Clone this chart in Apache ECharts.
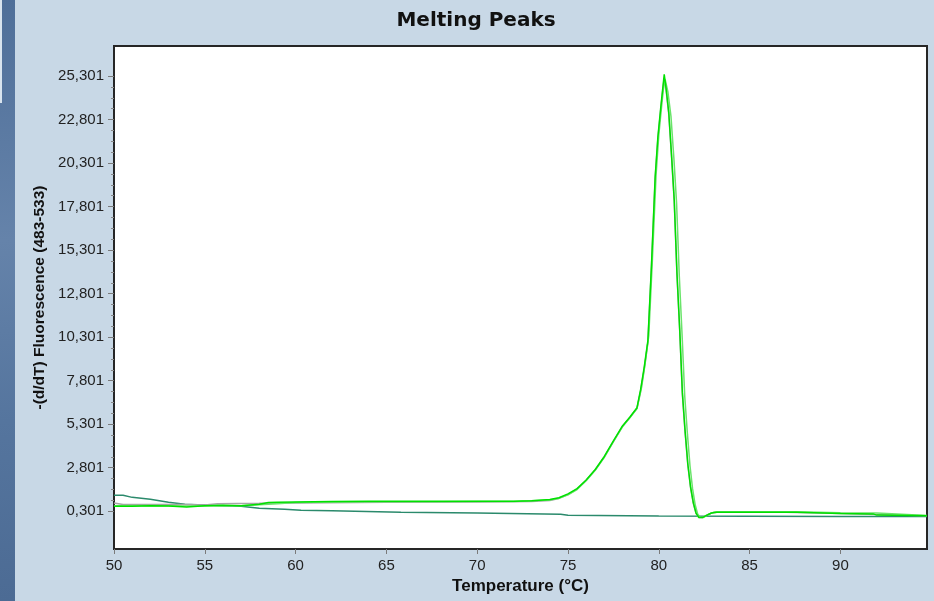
<!DOCTYPE html>
<html>
<head>
<meta charset="utf-8">
<title>Melting Peaks</title>
<script src="https://cdn.jsdelivr.net/npm/echarts@6/dist/echarts.min.js"></script>
<style>
  html, body { margin: 0; padding: 0; background: #c8d8e6; }
  #chart { width: 934px; height: 601px; }
</style>
</head>
<body>
<div id="chart"></div>
<script>
// Melting peak curves: -(d/dT) fluorescence (483-533) against temperature (°C)

// Sample 1 (bright green)
const tempS1 = [50, 51, 52, 53, 54, 55, 56, 57, 58, 58.5, 59, 60, 62, 64, 66, 68, 70, 72, 73, 74, 74.5, 75, 75.5, 76, 76.5, 77, 77.5, 78, 78.4, 78.8, 79.0, 79.2, 79.4, 79.6, 79.8, 79.95, 80.1, 80.2, 80.3, 80.4, 80.55, 80.7, 80.85, 81.0, 81.15, 81.3, 81.45, 81.6, 81.75, 81.9, 82.05, 82.2, 82.4, 82.6, 82.9, 83.2, 85, 87, 87.6, 90, 91.8, 92, 94.77];
const fluorS1 = [0.59, 0.59, 0.62, 0.60, 0.54, 0.62, 0.64, 0.62, 0.70, 0.80, 0.82, 0.84, 0.86, 0.87, 0.88, 0.87, 0.88, 0.88, 0.90, 0.98, 1.08, 1.30, 1.60, 2.10, 2.70, 3.45, 4.35, 5.20, 5.70, 6.25, 7.30, 8.60, 10.10, 14.50, 19.50, 21.80, 23.40, 24.40, 25.40, 24.60, 23.20, 20.80, 18.20, 14.00, 10.80, 7.10, 4.90, 3.00, 1.70, 0.80, 0.20, -0.05, -0.06, 0.05, 0.20, 0.24, 0.25, 0.25, 0.24, 0.18, 0.15, 0.08, 0.05];

// Sample 2 (light green)
const tempS2 = [50, 52, 54, 55, 57, 59, 60, 62, 65, 68, 70, 72, 74, 74.5, 75, 75.5, 76, 76.5, 77, 77.5, 78, 78.4, 78.8, 79.05, 79.25, 79.45, 79.65, 79.85, 80.0, 80.15, 80.25, 80.35, 80.5, 80.67, 80.83, 80.98, 81.13, 81.28, 81.43, 81.58, 81.72, 81.86, 82.0, 82.14, 82.28, 82.47, 82.7, 83.0, 83.2, 85, 87.5, 90, 92, 94.77];
const fluorS2 = [0.62, 0.63, 0.60, 0.60, 0.62, 0.74, 0.80, 0.83, 0.85, 0.85, 0.86, 0.86, 0.95, 1.05, 1.25, 1.55, 2.05, 2.65, 3.40, 4.30, 5.15, 5.65, 6.20, 7.40, 8.80, 10.40, 14.80, 19.60, 21.90, 23.50, 24.50, 25.10, 24.40, 23.00, 20.60, 18.00, 13.80, 10.50, 6.90, 4.70, 2.90, 1.60, 0.70, 0.15, -0.04, -0.05, 0.10, 0.24, 0.28, 0.28, 0.28, 0.22, 0.20, 0.06];

// Sample 3 (grey)
const tempS3 = [50, 50.5, 53.8, 55, 55.7, 58, 60, 65, 70, 73, 74, 74.5, 75, 75.5, 76, 76.5, 77, 77.5, 78, 78.4, 78.8, 79.0, 79.2, 79.4, 79.6, 79.8, 79.95, 80.1, 80.2, 80.3, 80.4, 80.55, 80.7, 80.85, 81.0, 81.15, 81.3, 81.45, 81.6, 81.75, 81.9, 82.05, 82.2, 82.4, 82.6, 82.9, 83.2, 85, 87, 90, 92, 94.77];
const fluorS3 = [0.78, 0.69, 0.69, 0.66, 0.74, 0.76, 0.78, 0.82, 0.83, 0.86, 0.92, 1.04, 1.26, 1.58, 2.08, 2.68, 3.42, 4.30, 5.18, 5.68, 6.22, 7.20, 8.50, 10.00, 14.40, 19.40, 21.70, 23.30, 24.30, 25.20, 24.50, 23.10, 20.70, 18.10, 13.90, 10.70, 7.00, 4.80, 2.95, 1.65, 0.75, 0.18, -0.05, -0.06, 0.06, 0.20, 0.24, 0.25, 0.24, 0.17, 0.12, 0.04];

// No-template control (teal)
const tempNTC = [50, 50.5, 51, 52, 53, 53.9, 55.3, 57, 58, 59.4, 60.3, 62, 65.8, 70, 74.6, 75, 80, 85, 90, 94.77];
const fluorNTC = [1.22, 1.22, 1.10, 0.99, 0.82, 0.70, 0.65, 0.59, 0.47, 0.42, 0.36, 0.33, 0.24, 0.20, 0.13, 0.07, 0.03, 0.01, 0.00, 0.00];

// Axis ticks
const xTickValues = [50, 55, 60, 65, 70, 75, 80, 85, 90];
const yTickValues = [0.301, 2.801, 5.301, 7.801, 10.301, 12.801, 15.301, 17.801, 20.301, 22.801, 25.301];

// minor y ticks: three between each pair of labelled ticks
const yMinorValues = [];
for (let i = 0; i < yTickValues.length - 1; i++) {
  const step = (yTickValues[i + 1] - yTickValues[i]) / 4;
  for (let k = 1; k < 4; k++) yMinorValues.push(+(yTickValues[i] + k * step).toFixed(4));
}

const pairs = (xs, ys) => xs.map((x, i) => [x, ys[i]]);
const fmtY = v => v.toFixed(3).replace('.', ',');

const Y_MIN = -1.866, Y_MAX = 27.025;
const X_MIN = 50, X_MAX = 94.77;

const chart = echarts.init(document.getElementById('chart'), null, { renderer: 'canvas' });

const lineSeries = (name, data, color, width, z) => ({
  name, type: 'line', data, showSymbol: false, symbol: 'none',
  xAxisIndex: 0, yAxisIndex: 0, z,
  lineStyle: { color, width },
  emphasis: { disabled: true },
  animation: false
});

chart.setOption({
  backgroundColor: '#c8d8e6',
  animation: false,
  graphic: [
    {
      type: 'rect', left: 0, top: 0, z: -10,
      shape: { width: 15, height: 601 },
      style: {
        fill: new echarts.graphic.LinearGradient(0, 0, 1, 1, [
          { offset: 0, color: '#4f6f99' },
          { offset: 0.4, color: '#6583aa' },
          { offset: 0.7, color: '#55759e' },
          { offset: 1, color: '#4c6b94' }
        ])
      }
    },
    {
      type: 'rect', left: 0, top: 0, z: -9,
      shape: { width: 2, height: 103 },
      style: { fill: '#d9e4ee' }
    },
    {
      type: 'text', x: 476, y: 21, z: 10,
      style: {
        text: 'Melting Peaks',
        font: 'bold 20px "DejaVu Sans"',
        fill: '#111',
        align: 'center',
        verticalAlign: 'middle'
      }
    }
  ],
  grid: {
    left: 114, top: 46, right: 7, bottom: 52,
    show: true, backgroundColor: '#ffffff',
    borderColor: '#262626', borderWidth: 2
  },
  xAxis: {
    type: 'value', min: X_MIN, max: X_MAX,
    name: 'Temperature (°C)', nameLocation: 'middle', nameGap: 29,
    nameTextStyle: { fontFamily: 'Liberation Sans', fontWeight: 'bold', fontSize: 17, color: '#111' },
    axisLine: { show: true, onZero: false, lineStyle: { color: '#262626', width: 2 } },
    axisTick: { show: true, customValues: xTickValues, length: 5, lineStyle: { color: '#7a7a7a', width: 1 } },
    axisLabel: { customValues: xTickValues, margin: 9, fontFamily: 'Liberation Sans', fontSize: 15, color: '#222' },
    splitLine: { show: false }
  },
  yAxis: [
    {
      type: 'value', min: Y_MIN, max: Y_MAX, position: 'left',
      name: '-(d/dT) Fluorescence (483-533)', nameLocation: 'middle', nameGap: 59, nameRotate: 90,
      nameTextStyle: { fontFamily: 'Liberation Sans', fontWeight: 'bold', fontSize: 15.5, color: '#111' },
      axisLine: { show: true, onZero: false, lineStyle: { color: '#262626', width: 2 } },
      axisTick: { show: true, customValues: yTickValues, length: 6, lineStyle: { color: '#7a7a7a', width: 1 } },
      axisLabel: { customValues: yTickValues, formatter: fmtY, margin: 10, fontFamily: 'Liberation Sans', fontSize: 15, color: '#222' },
      splitLine: { show: false }
    },
    {
      type: 'value', min: Y_MIN, max: Y_MAX, position: 'left', offset: 0,
      axisLine: { show: false, onZero: false },
      axisTick: { show: true, customValues: yMinorValues, length: 3, lineStyle: { color: '#8a8a8a', width: 1 } },
      axisLabel: { show: false },
      splitLine: { show: false }
    }
  ],
  series: [
    lineSeries('No template', pairs(tempNTC, fluorNTC), '#2b8a6c', 1.5, 2),
    lineSeries('Sample 3', pairs(tempS3, fluorS3), '#a6a6a6', 1.5, 3),
    lineSeries('Sample 2', pairs(tempS2, fluorS2), '#6ae46a', 1.5, 4),
    lineSeries('Sample 1', pairs(tempS1, fluorS1), '#00e000', 1.5, 5)
  ]
});
</script>
</body>
</html>
